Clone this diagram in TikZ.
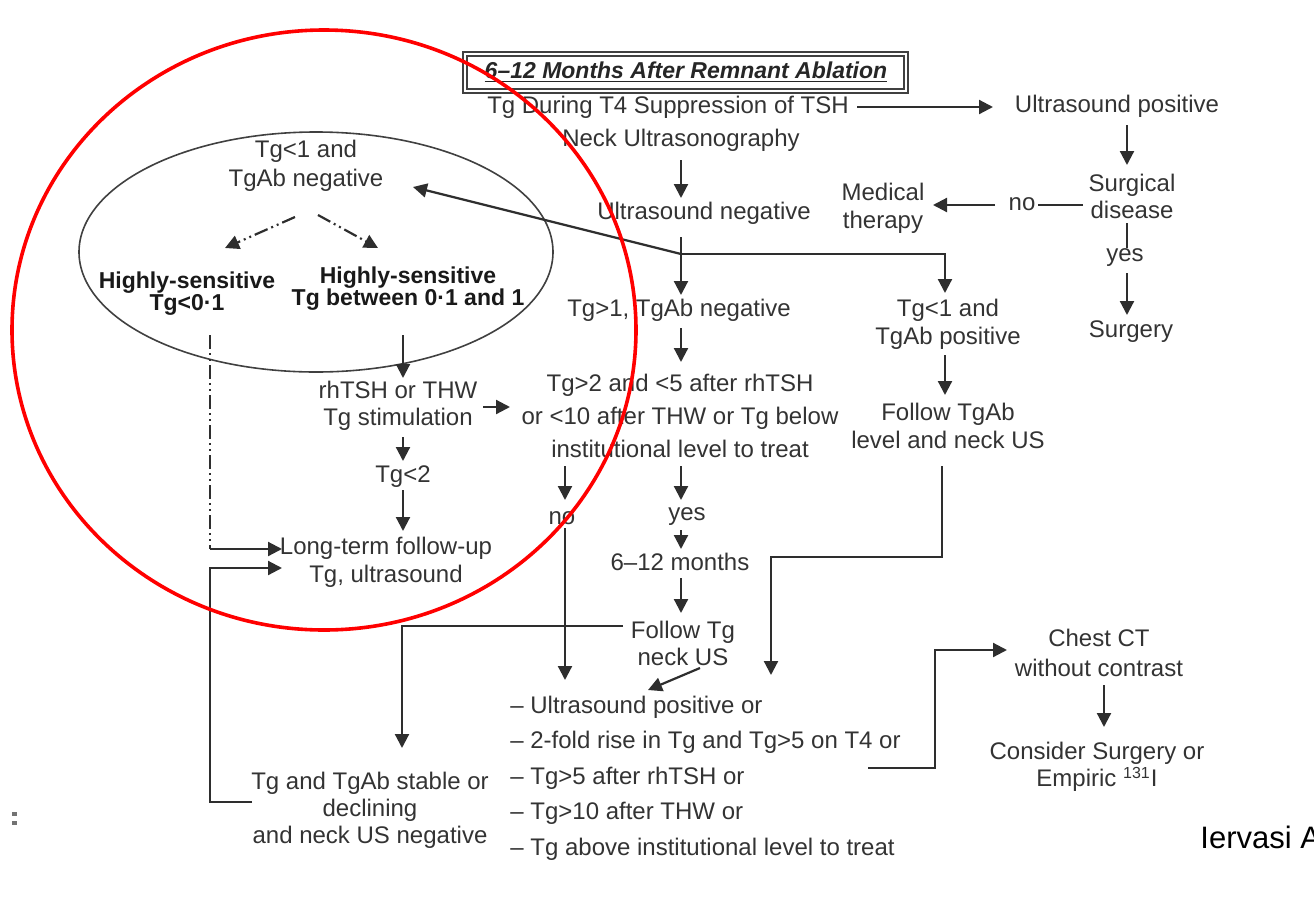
\documentclass[tikz,border=0pt]{standalone}
\usepackage{fontspec}
\setmainfont{Liberation Sans}
\usetikzlibrary{arrows.meta,calc}
\newcommand\myfs[2]{\fontsize{#1}{#2}\selectfont}
\begin{document}
\begin{tikzpicture}[x=0.5pt,y=-0.5pt,
 txt/.style={font=\myfs{12}{14}, text=black!80, align=center, inner sep=0pt},
 hsb/.style={txt, font={\myfs{11.5}{11}\bfseries}, text=black!90},
 arr/.style={draw=black!82, line width=1.1pt, -{Triangle[length=7pt,width=7pt]}},
 ln/.style={draw=black!82, line width=1.1pt},
 dd/.style={draw=black!82, line width=1.1pt, dash pattern=on 7pt off 2pt on 1pt off 2pt on 1pt off 2pt},
 dda/.style={dd, -{Triangle[length=7pt,width=7pt]}},
]
\useasboundingbox (0,0) rectangle (1314,911);

% title
\node[txt, font={\myfs{11.5}{14}\bfseries\itshape}, text=black!85] (title) at (686,72) {\underline{6–12 Months After Remnant Ablation}};
\draw[black!75, line width=0.8pt] ($(title)+(-223,-20)$) rectangle ($(title)+(222,21)$);
\draw[black!75, line width=0.8pt] ($(title)+(-219,-16)$) rectangle ($(title)+(218,17)$);

% central column
\node[txt] (tsh) at (668,107) {Tg During T4 Suppression of TSH};
\node[txt] (uspos) at (1117,106) {Ultrasound positive};
\node[txt] (neck) at (681,140) {Neck Ultrasonography};
\node[txt] (usneg) at (704,213) {Ultrasound negative};
\node[txt] (tggt1) at (679,310) {Tg>1, TgAb negative};
\node[txt, font=\myfs{12}{16.5}] (stim) at (680,416) {Tg>2 and <5 after rhTSH\\or <10 after THW or Tg below\\institutional level to treat};
\node[txt] (no1) at (562,518) {no};
\node[txt] (yes1) at (687,517) {yes};
\node[txt] (months) at (680,562) {6–12 months};
\node[txt, font=\myfs{12}{13.5}] (follow) at (683,643) {Follow Tg\\neck US};
\node[txt, align=left, anchor=west, font=\myfs{12}{17.75}] (list) at (510,778) {– Ultrasound positive or\\– 2-fold rise in Tg and Tg>5 on T4 or\\– Tg>5 after rhTSH or\\– Tg>10 after THW or\\– Tg above institutional level to treat};
\node[txt, font=\myfs{12}{13.5}] (stable) at (370,810) {Tg and TgAb stable or\\declining\\and neck US negative};

% right column
\node[txt, font=\myfs{12}{13.5}] (surg) at (1132,196) {Surgical\\disease};
\node[txt] (no2) at (1022,204) {no};
\node[txt] (medical) at (883,208) {Medical\\therapy};
\node[txt] (yes2) at (1125,258) {yes};
\node[txt] (surgery) at (1131,332) {Surgery};
\node[txt] (tgpos) at (948,324) {Tg<1 and\\TgAb positive};
\node[txt] (followab) at (948,426) {Follow TgAb\\level and neck US};
\node[txt, font=\myfs{12}{15}] (chest) at (1099,653) {Chest CT\\without contrast};
\node[txt, font=\myfs{12}{13.5}] (consider) at (1097,767) {Consider Surgery or\\Empiric \textsuperscript{131}I};

% left (ellipse) part
\draw[black!75, line width=0.8pt] (316,252) ellipse [x radius=237, y radius=120];
\node[txt, font=\myfs{12}{14.5}] (tgneg) at (306,166) {Tg<1 and\\TgAb negative};
\node[hsb] (hs1) at (187,294) {Highly-sensitive\\Tg<0·1};
\node[hsb] (hs2) at (408,289) {Highly-sensitive\\Tg between 0·1 and 1};
\node[txt, font=\myfs{12}{13.5}] (rhtsh) at (398,406) {rhTSH or THW\\Tg stimulation};
\node[txt] (tglt2) at (403,477) {Tg<2};
\node[txt] (ltf) at (386,562) {Long-term follow-up\\Tg, ultrasound};

% connectors: central
\draw[arr] ($(tsh)+(189,0)$) -- ($(uspos)+(-124,1)$);
\draw[arr] ($(neck)+(0,20)$) -- ($(usneg)+(-23,-15)$);
\draw[arr] ($(usneg)+(-23,24)$) -- ($(tggt1)+(2,-15)$);
\coordinate (br) at ($(usneg)+(-23,41)$);
\draw[arr] (br) -| ($(tgpos)+(-3,-31)$);
\draw[arr] (br) -- ($(tgneg)+(107,21)$);
\draw[arr] ($(tggt1)+(2,18)$) -- ($(stim)+(1,-54)$);
\draw[arr] ($(stim)+(-115,50)$) -- ($(no1)+(3,-18)$);
\draw[arr] ($(no1)+(3,10)$) -- ($(list.west)+(55,-98)$);
\draw[arr] ($(stim)+(1,50)$) -- ($(yes1)+(-6,-17)$);
\draw[arr] ($(yes1)+(-6,13)$) -- ($(months)+(1,-13)$);
\draw[arr] ($(months)+(1,16)$) -- ($(follow)+(-2,-30)$);
\draw[arr] ($(follow)+(-60,-17)$) -| ($(stable)+(32,-62)$);
\draw[arr] ($(follow)+(17,25)$) -- ($(list.west)+(138,-88)$);
\draw[arr] ($(tgpos)+(-3,31)$) -- ($(followab)+(-3,-31)$);
\draw[arr] ($(followab)+(-6,40)$) -- ++(0,91) -| ($(list.west)+(261,-103)$);
\draw[arr] ($(list.west)+(358,-10)$) -- ++(67,0) |- ($(chest)+(-92,-3)$);
\draw[arr] ($(chest)+(5,32)$) -- ($(consider)+(7,-40)$);

% connectors: right
\draw[arr] ($(uspos)+(10,19)$) -- ($(surg)+(-5,-31)$);
\draw[ln] ($(surg)+(-49,9)$) -- ($(no2)+(16,1)$);
\draw[arr] ($(no2)+(-27,1)$) -- ($(medical)+(50,-3)$);
\draw[ln] ($(surg)+(-5,27)$) -- ($(yes2)+(2,-10)$);
\draw[arr] ($(yes2)+(2,15)$) -- ($(surgery)+(-4,-17)$);

% connectors: left
\draw[dda] ($(tgneg)+(-11,51)$) -- ($(hs1)+(38,-46)$);
\draw[dda] ($(tgneg)+(12,49)$) -- ($(hs2)+(-30,-41)$);
\draw[arr] ($(hs2)+(-5,46)$) -- ($(rhtsh)+(5,-28)$);
\draw[arr] ($(rhtsh)+(85,1)$) -- ($(stim)+(-170,-9)$);
\draw[arr] ($(rhtsh)+(5,31)$) -- ($(tglt2)+(0,-16)$);
\draw[arr] ($(tglt2)+(0,13)$) -- ($(ltf)+(17,-31)$);
\draw[dd] ($(hs1)+(23,41)$) -- ($(ltf)+(-176,-13)$);
\draw[arr] ($(ltf)+(-176,-13)$) -- ($(ltf)+(-104,-13)$);
\draw[arr] ($(stable)+(-118,-8)$) -- ++(-42,0) |- ($(ltf)+(-104,6)$);

% small mark at left edge
\fill[black!55] (12,812) rectangle (17,816);
\fill[black!55] (12,821) rectangle (17,825);

% author note, cut at the edge as in the reference
\begin{scope}
\clip (0,0) rectangle (1314,911);
\node[anchor=base west, inner sep=0pt, font=\myfs{15.5}{18}, text=black] (author) at (1200,848) {Iervasi A};
\end{scope}

% red circle
\draw[red, line width=1.8pt] (324,330) ellipse [x radius=312, y radius=300];
\end{tikzpicture}
\end{document}
